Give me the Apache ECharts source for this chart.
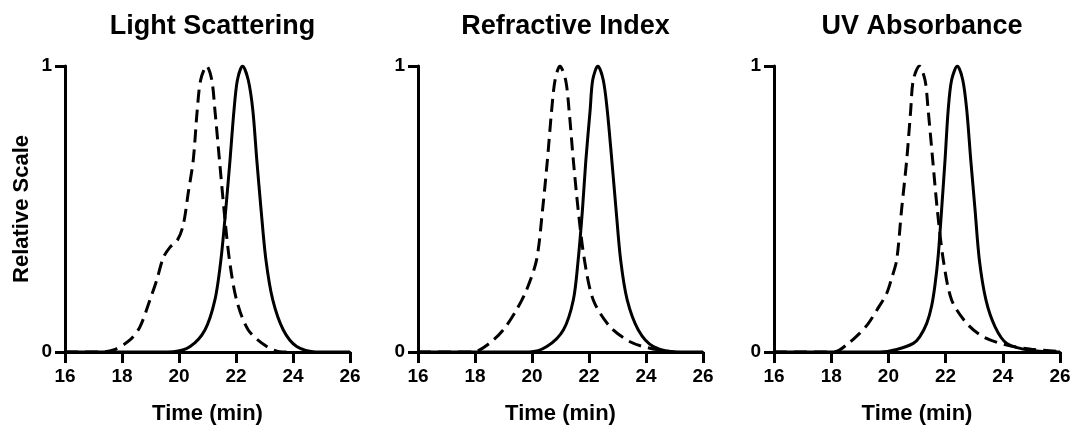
<!DOCTYPE html>
<html>
<head>
<meta charset="utf-8">
<script src="https://cdn.jsdelivr.net/npm/echarts@6/dist/echarts.min.js"></script>
<style>
  html, body { margin: 0; padding: 0; background: #fff; }
</style>
</head>
<body>
<div id="main" style="width:1072px;height:425px;"></div>
<script>
// panel titles
var titles = ['Light Scattering', 'Refractive Index', 'UV Absorbance'];
var xTicks = [16, 18, 20, 22, 24, 26];
var yTicks = [0, 1];

// Light Scattering
var lsDashed = [[16,0],[17.2,0],[17.7,0.007],[18.28,0.042],[18.63,0.088],[18.98,0.182],[19.22,0.252],[19.45,0.33],[19.68,0.366],[19.95,0.392],[20.15,0.445],[20.33,0.56],[20.5,0.671],[20.64,0.846],[20.76,0.951],[20.97,1],[21.15,0.951],[21.26,0.846],[21.42,0.671],[21.58,0.497],[21.77,0.322],[22.02,0.182],[22.43,0.077],[23.08,0.019],[23.54,0.001],[24,0]];
var lsSolid = [[16,0],[19.3,0],[19.8,0.001],[20.39,0.019],[20.91,0.077],[21.26,0.182],[21.47,0.322],[21.64,0.497],[21.79,0.671],[21.93,0.846],[22.05,0.951],[22.23,1],[22.43,0.951],[22.59,0.846],[22.73,0.671],[22.88,0.497],[23.05,0.322],[23.29,0.182],[23.66,0.077],[24.13,0.019],[24.8,0],[26,0]];

// Refractive Index
var riDashed = [[16,0],[17.93,0],[18.5,0.03],[18.98,0.076],[19.45,0.146],[19.81,0.217],[20.16,0.322],[20.37,0.497],[20.54,0.671],[20.69,0.846],[20.81,0.951],[20.98,1],[21.18,0.951],[21.3,0.846],[21.45,0.671],[21.62,0.497],[21.84,0.322],[22.15,0.182],[22.74,0.088],[23.44,0.036],[24.14,0.013],[25,0]];
var riSolid = [[16,0],[19.9,0],[20.52,0.019],[21.1,0.077],[21.45,0.182],[21.62,0.322],[21.77,0.497],[21.89,0.671],[22.04,0.846],[22.13,0.951],[22.31,1],[22.5,0.951],[22.64,0.846],[22.8,0.671],[22.95,0.497],[23.11,0.322],[23.34,0.182],[23.73,0.077],[24.26,0.019],[25.2,0],[26,0]];

// UV Absorbance
var uvDashed = [[16,0],[18.1,0],[18.6,0.03],[19.0,0.066],[19.3,0.1],[19.6,0.147],[19.94,0.205],[20.12,0.26],[20.29,0.322],[20.46,0.497],[20.64,0.671],[20.78,0.846],[20.87,0.951],[21.08,1],[21.28,0.951],[21.39,0.846],[21.55,0.671],[21.71,0.497],[21.92,0.322],[22.21,0.182],[22.74,0.1],[23.32,0.053],[24.14,0.024],[25.0,0.01],[25.95,0.002]];
var uvSolid = [[16,0],[19.7,0],[20.29,0.009],[20.87,0.03],[21.1,0.054],[21.34,0.1],[21.51,0.16],[21.63,0.235],[21.74,0.335],[21.86,0.497],[21.98,0.671],[22.09,0.846],[22.21,0.951],[22.41,1],[22.6,0.951],[22.74,0.846],[22.88,0.671],[23.03,0.497],[23.18,0.322],[23.41,0.182],[23.73,0.088],[24.14,0.03],[25.0,0.005],[26,0]];

var dashedSets = [lsDashed, riDashed, uvDashed];
var solidSets = [lsSolid, riSolid, uvSolid];

var font = '"Liberation Sans", Arial, sans-serif';
var lefts = [65, 418, 774];
var widths = [285, 285, 286];

var grids = [], xAxes = [], yAxes = [], series = [], titleList = [];
for (var i = 0; i < 3; i++) {
  // outerBoundsMode none: keep the grid exactly where it is put
  grids.push({ left: lefts[i], top: 66, width: widths[i], height: 286, outerBoundsMode: 'none', containLabel: false });
  titleList.push({
    text: titles[i],
    left: lefts[i] + widths[i] / 2,
    top: 8,
    textAlign: 'center',
    textStyle: { fontFamily: font, fontSize: 27, fontWeight: 'bold', color: '#000' }
  });
  xAxes.push({
    type: 'value', gridIndex: i, min: xTicks[0], max: xTicks[xTicks.length - 1], interval: 2,
    name: 'Time (min)', nameLocation: 'middle', nameGap: 51,
    nameTextStyle: { fontFamily: font, fontSize: 22, fontWeight: 'bold', color: '#000' },
    axisLine: { show: true, onZero: false, lineStyle: { color: '#000', width: 3 } },
    axisTick: { show: true, inside: false, length: 11, lineStyle: { color: '#000', width: 3 } },
    axisLabel: { fontFamily: font, fontSize: 19, fontWeight: 'bold', color: '#000', margin: 15 },
    splitLine: { show: false }
  });
  yAxes.push({
    type: 'value', gridIndex: i, min: yTicks[0], max: yTicks[1], interval: 1,
    name: i === 0 ? 'Relative Scale' : '', nameLocation: 'middle', nameGap: 32,
    nameTextStyle: { fontFamily: font, fontSize: 22, fontWeight: 'bold', color: '#000' },
    axisLine: { show: true, onZero: false, lineStyle: { color: '#000', width: 3 } },
    axisTick: { show: true, inside: false, length: 10, lineStyle: { color: '#000', width: 3 } },
    axisLabel: { fontFamily: font, fontSize: 19, fontWeight: 'bold', color: '#000', margin: 13 },
    splitLine: { show: false }
  });
  series.push({
    type: 'line', xAxisIndex: i, yAxisIndex: i, data: dashedSets[i],
    smooth: 0.3, symbol: 'none',
    lineStyle: { color: '#000', width: 3, type: [13, 7] }
  });
  series.push({
    type: 'line', xAxisIndex: i, yAxisIndex: i, data: solidSets[i],
    smooth: 0.3, symbol: 'none',
    lineStyle: { color: '#000', width: 3 }
  });
}

var chart = echarts.init(document.getElementById('main'));
chart.setOption({
  animation: false,
  backgroundColor: '#fff',
  title: titleList,
  grid: grids,
  xAxis: xAxes,
  yAxis: yAxes,
  series: series
});
</script>
</body>
</html>
